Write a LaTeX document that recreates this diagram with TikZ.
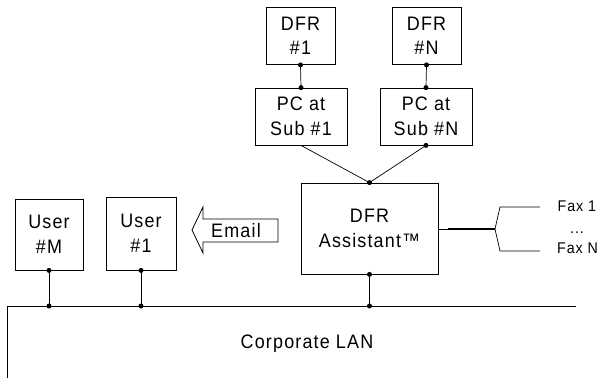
\documentclass[tikz,border=0pt]{standalone}
\usepackage{fontspec}
\setmainfont{Liberation Sans}
\newfontfamily\diagfont{Liberation Sans}[LetterSpace=6, FakeStretch=0.92]
\begin{document}
\begin{tikzpicture}[x=1pt,y=-1pt,
  box/.style={draw, line width=0.8pt, inner sep=0pt, align=center,
    font=\diagfont\fontsize{19.5}{24.5}\selectfont},
  wire/.style={line width=0.7pt},
  dotc/.style={circle, fill, inner sep=0pt, minimum size=5pt},
  lbl/.style={inner sep=0pt, font=\diagfont\fontsize{19.5}{24}\selectfont},
  faxlbl/.style={inner sep=0pt, anchor=base west, font=\diagfont\fontsize{15.5}{18}\selectfont}]
\useasboundingbox (0,0) rectangle (603,378);

% boxes
\node[box, minimum width=69pt, minimum height=57pt] (dfr1) at (300.5,36) {DFR\\\#1};
\node[box, minimum width=69pt, minimum height=57pt] (dfrN) at (426.5,36) {DFR\\\#N};
\node[box, minimum width=92pt, minimum height=57pt] (pc1) at (301,116.5) {PC at\\Sub \#1};
\node[box, minimum width=92pt, minimum height=57pt] (pcN) at (426,116.5) {PC at\\Sub \#N};
\node[box, minimum width=137pt, minimum height=91pt] (asst) at (369.5,228.5) {DFR\\Assistant™};
\node[box, minimum width=68pt, minimum height=71pt] (userM) at (49,234.5) {User\\\#M};
\node[box, minimum width=70pt, minimum height=73pt] (user1) at (141,233.5) {User\\\#1};

% LAN
\coordinate (lanL) at (7,378);
\coordinate (lanTL) at (7,306);
\coordinate (lanTR) at (576,306);
\draw[wire] (lanL) -- (lanTL) -- (lanTR);
\node[lbl, anchor=base] (lan) at (307,348) {Corporate LAN};

\coordinate (lanM) at (userM.south |- lanTL);
\coordinate (lan1) at (user1.south |- lanTL);
\coordinate (lanA) at (asst.south |- lanTL);

% connectors
\draw[wire] (dfr1.south) -- (pc1.north);
\draw[wire] (dfrN.south) -- (pcN.north);
\draw[wire] (pc1.south) -- (asst.north);
\draw[wire] (pcN.south) -- (asst.north);
\draw[wire] (asst.south) -- (lanA);
\draw[wire] (userM.south) -- (lanM);
\draw[wire] (user1.south) -- (lan1);

% dots
\foreach \p in {dfr1.south, pc1.north, dfrN.south, pcN.north, pcN.south,
  asst.north, asst.south, lanA, userM.south, lanM, user1.south, lan1}
  \node[dotc] at (\p) {};

% fax lines
\coordinate (fthin) at (448,229);
\coordinate (fbr) at (495,229);
\coordinate (fupk) at (500,207);
\coordinate (fupe) at (540,207);
\coordinate (fdnk) at (500,251);
\coordinate (fdne) at (540,251);
\draw[wire] (asst.east |- fthin) -- (fthin);
\draw[line width=1.4pt] (fthin) -- (fbr);
\draw[wire] (fbr) -- (fupk) -- (fupe);
\draw[wire] (fbr) -- (fdnk) -- (fdne);
\node[faxlbl] (fax1) at (557.5,211) {Fax 1};
\node[faxlbl, anchor=base] (faxd) at (577,233) {...};
\node[faxlbl] (faxN) at (557,253) {Fax N};

% email arrow
\draw[line width=0.8pt] (192,230) -- (203,207) -- (203,219) -- (278,219)
  -- (278,242) -- (203,242) -- (203,253) -- cycle;
\node[lbl, anchor=base] (email) at (236,237.5) {Email};
\end{tikzpicture}
\end{document}
